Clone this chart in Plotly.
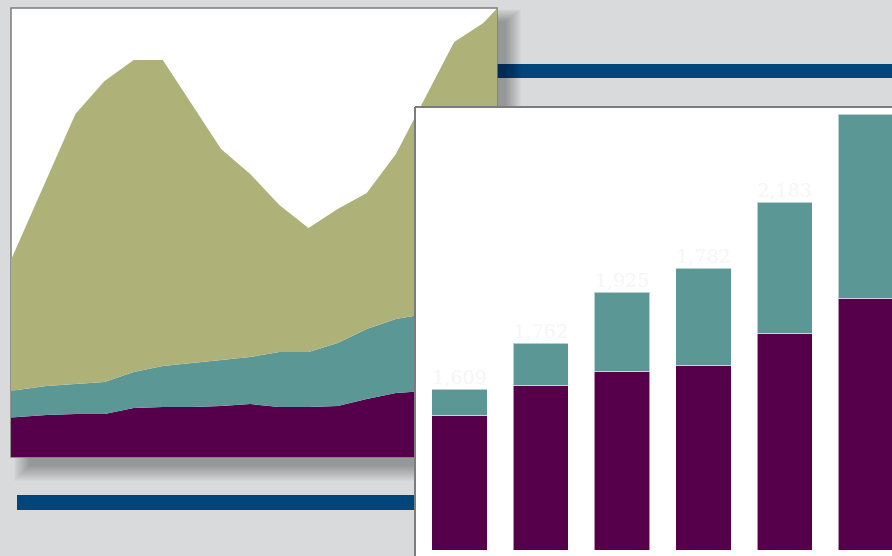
import plotly.graph_objects as go

# ---------------- data ----------------
# stacked area chart (left panel)
years = list(range(1989, 2008))
area_purple = [38, 40, 42, 43, 43, 49, 50, 50, 51, 53, 50, 50, 51, 58, 64, 66, 68, 70, 72]
area_teal = [27, 27, 29, 30, 32, 36, 41, 44, 46, 47, 55, 55, 63, 70, 74, 77, 81, 87, 90]
area_green = [80, 144, 206, 270, 301, 312, 306, 258, 211, 183, 147, 124, 134, 136, 165, 216, 266, 277, 303]

# stacked bar chart (right panel)
bar_cats = [0, 1, 2, 3, 4, 5]
bar_purple = [135, 165, 179, 185, 217, 252]
bar_teal = [26, 42, 79, 97, 131, 184]
bar_labels = ["1,609", "1,762", "1,925", "1,782", "2,183", ""]

# ---------------- style ----------------
W, H = 892, 556
BG = "#d9dadc"
GREEN = "#aeb279"
TEAL = "#5b9795"
PURPLE = "#56004b"
BLUE = "#00457c"
BORDER = "#7c7c7c"


def px_x(x):
    return x / W


def px_y(y):
    return 1 - y / H


def rect(x0, y0, x1, y1, **kw):
    return dict(type="rect", xref="paper", yref="paper",
                x0=px_x(x0), x1=px_x(x1), y0=px_y(y1), y1=px_y(y0), **kw)


def line(x0, y0, x1, y1, color, width):
    return dict(type="line", xref="paper", yref="paper",
                x0=px_x(x0), x1=px_x(x1), y0=px_y(y0), y1=px_y(y1),
                line=dict(color=color, width=width))


fig = go.Figure()

# area chart in xy
for vals, col in [(area_purple, PURPLE), (area_teal, TEAL), (area_green, GREEN)]:
    fig.add_trace(go.Scatter(x=years, y=vals, stackgroup="one", mode="lines",
                             line=dict(width=0, color=col), fillcolor=col,
                             hoverinfo="skip", showlegend=False,
                             xaxis="x", yaxis="y"))

# white backing of the bar panel (heatmap layer sits under the bars)
fig.add_trace(go.Heatmap(z=[[1]], x0=2.4, dx=10, y0=200, dy=1000,
                         colorscale=[[0, "white"], [1, "white"]], showscale=False,
                         hoverinfo="skip", xaxis="x2", yaxis="y2"))

bar_line = dict(color="rgba(255,255,255,0.55)", width=1)
fig.add_trace(go.Bar(x=bar_cats, y=bar_purple, marker=dict(color=PURPLE, line=bar_line),
                     width=0.68, hoverinfo="skip", showlegend=False, xaxis="x2", yaxis="y2"))
fig.add_trace(go.Bar(x=bar_cats, y=bar_teal, marker=dict(color=TEAL, line=bar_line),
                     width=0.68, hoverinfo="skip", showlegend=False, xaxis="x2", yaxis="y2"))
totals = [p + t for p, t in zip(bar_purple, bar_teal)]
fig.add_trace(go.Scatter(x=bar_cats, y=totals, mode="text", text=bar_labels,
                         textposition="top center",
                         textfont=dict(family="DejaVu Serif", size=19, color="#f6f6f6"),
                         cliponaxis=False, hoverinfo="skip", showlegend=False,
                         xaxis="x2", yaxis="y2"))

# ---------------- decorations ----------------
shapes = []
# blue bars (under the shadow)
shapes.append(rect(497, 64, 892, 78, fillcolor=BLUE, line=dict(width=0), layer="below"))
shapes.append(rect(17, 495, 415, 510, fillcolor=BLUE, line=dict(width=0), layer="below"))
# soft drop shadow of left panel (to the right and below)
N = 16
for i in range(N):
    e = float(N - i)
    shapes.append(rect(30 - e, 22 - 0.8 * e, 505 + e, 465 + e,
                       fillcolor="rgba(0,0,0,0.019)", line=dict(width=0), layer="below"))
# left panel
shapes.append(rect(11, 8, 497, 457, fillcolor="white", line=dict(color=BORDER, width=1.5),
                   layer="below"))
# right panel border
shapes.append(line(415, 107, 415, 556, BORDER, 2))
shapes.append(line(415, 107, 892, 107, BORDER, 2))

ax_off = dict(showgrid=False, zeroline=False, showticklabels=False, ticks="",
              showline=False, fixedrange=True)

fig.update_layout(
    width=W, height=H, margin=dict(l=0, r=0, t=0, b=0),
    paper_bgcolor=BG, plot_bgcolor="rgba(0,0,0,0)",
    barmode="stack", showlegend=False,
    shapes=shapes,
    xaxis=dict(domain=[px_x(11), px_x(497)], range=[1990 - 0.21, 1990 + 16.47], **ax_off),
    yaxis=dict(domain=[px_y(457), px_y(8)], range=[0, 449], **ax_off),
    xaxis2=dict(domain=[px_x(416), 1], range=[-0.535, 5.32], anchor="y2", **ax_off),
    yaxis2=dict(domain=[0, px_y(108)], range=[-6, 442], anchor="x2", **ax_off),
)

fig.write_html("out.html", config={"displayModeBar": False},
               post_script="document.body.style.margin='0';document.body.style.overflow='hidden';")
